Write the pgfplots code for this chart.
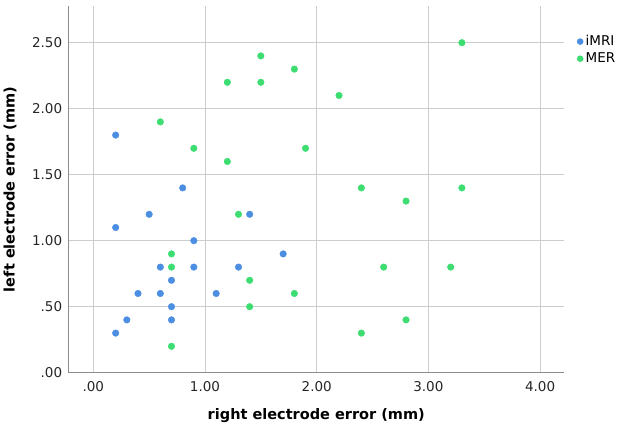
\documentclass[border=0pt]{standalone}
\usepackage{fontspec}
\setmainfont{DejaVu Sans}
\usepackage{pgfplots}
\pgfplotsset{compat=1.18}
\definecolor{imriblue}{HTML}{4C8EE2}
\definecolor{mergreen}{HTML}{3DDD72}
\definecolor{gridgray}{HTML}{CDCDCD}
\definecolor{axisgray}{HTML}{8C8C8C}

\begin{document}
\begin{tikzpicture}[x=1pt,y=1pt]
\useasboundingbox (0,0) rectangle (624,428);
\begin{axis}[
  at={(68.3pt,55.3pt)}, anchor=south west,
  scale only axis, width=496pt, height=366.7pt,
  xmin=-0.224, xmax=4.217, ymin=0, ymax=2.778,
  axis lines*=left,
  axis line style={draw=axisgray, line width=1pt, -},
  xtick={0,1,2,3,4}, xticklabels={.00,1.00,2.00,3.00,4.00},
  ytick={0,0.5,1,1.5,2,2.5}, yticklabels={.00,.50,1.00,1.50,2.00,2.50},
  major tick length=0pt,
  grid=major, major grid style={draw=gridgray, line width=0.9pt},
  tick label style={font=\fontsize{13.5}{16}\selectfont, text=black!85},
  yticklabel style={inner sep=0pt, anchor=east, xshift=-6pt},
  xticklabel style={inner sep=0pt, anchor=north, yshift=-9pt},
  xlabel={right electrode error (mm)},
  ylabel={left electrode error (mm)},
  label style={font=\fontsize{14.5}{17}\bfseries},
  xlabel style={at={(axis description cs:0.5,0)}, anchor=base, yshift=-47pt},
  ylabel style={at={(axis description cs:-0.1175,0.5)}, anchor=center},
  legend style={at={(axis description cs:1.025,0.925)}, anchor=north west,
    draw=none, fill=none, font=\fontsize{13.5}{16}\selectfont,
    row sep=1.6pt, inner sep=0pt},
  legend cell align=left,
  legend image code/.code={\fill[#1] (0pt,0pt) circle (3.3pt); \path (3.5pt,0pt);},
  clip=false,
]
\addplot[only marks, mark=*, mark size=3.3pt, draw=none, fill=imriblue, color=imriblue]
coordinates {
(0.2,1.8) (0.8,1.4) (0.5,1.2) (1.4,1.2) (0.2,1.1) (0.9,1.0) (1.7,0.9)
(0.6,0.8) (0.9,0.8) (1.3,0.8) (0.7,0.7) (0.4,0.6) (0.6,0.6) (1.1,0.6)
(0.7,0.5) (0.3,0.4) (0.7,0.4) (0.2,0.3)
};
\addlegendentry{iMRI}
\addplot[only marks, mark=*, mark size=3.3pt, draw=none, fill=mergreen, color=mergreen]
coordinates {
(0.6,1.9) (0.9,1.7) (1.2,2.2) (1.2,1.6) (1.5,2.4) (1.5,2.2) (1.8,2.3)
(1.9,1.7) (1.3,1.2) (3.3,2.5) (2.2,2.1) (2.4,1.4) (2.8,1.3) (3.3,1.4)
(0.7,0.9) (0.7,0.8) (1.4,0.7) (1.8,0.6) (1.4,0.5) (0.7,0.2) (2.6,0.8)
(3.2,0.8) (2.8,0.4) (2.4,0.3)
};
\addlegendentry{MER}
\end{axis}
\end{tikzpicture}
\end{document}
